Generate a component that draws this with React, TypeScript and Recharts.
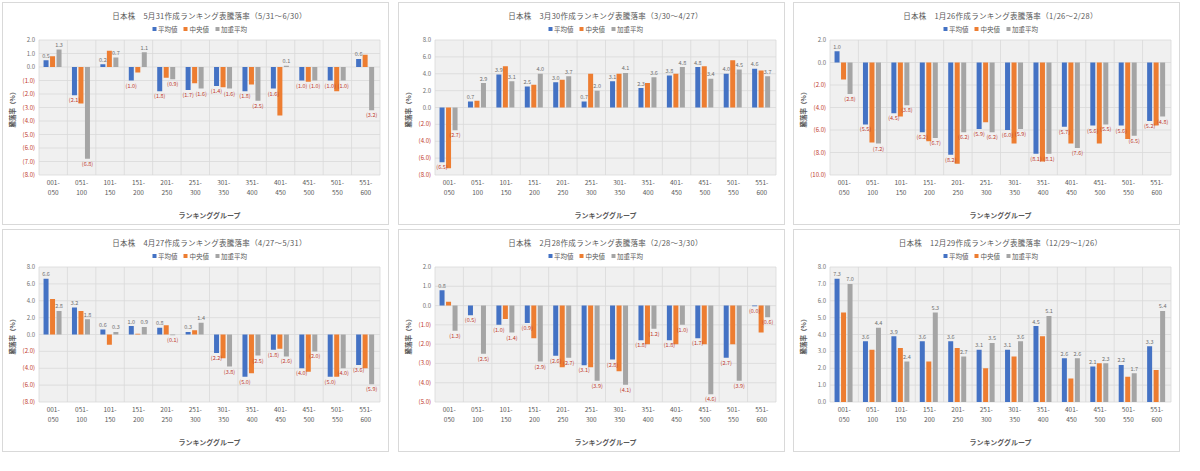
import React from 'react';
import { BarChart, Bar, XAxis, YAxis, CartesianGrid, LabelList } from 'recharts';

const categories = ['001-050', '051-100', '101-150', '151-200', '201-250', '251-300', '301-350', '351-400', '401-450', '451-500', '501-550', '551-600'];
const seriesNames = ['平均値', '中央値', '加重平均'];
const seriesColors = ['#4472C4', '#ED7D31', '#A5A5A5'];
const xAxisTitle = 'ランキンググループ';
const yAxisTitle = '騰落率（%）';

// Panel 1: 5/31 -> 6/30
const p1Title = '日本株　5月31作成ランキング表騰落率（5/31～6/30）';
const p1Avg = [0.5, -2.1, 0.2, -1.0, -1.8, -1.7, -1.4, -1.8, -1.6, -1.0, -1.0, 0.6];
const p1Med = [0.8, -2.7, 1.2, -0.4, -0.8, -1.2, -1.5, -1.3, -3.6, -1.1, -1.8, 0.9];
const p1W = [1.3, -6.8, 0.7, 1.1, -0.9, -1.6, -1.6, -2.5, 0.1, -1.0, -1.0, -3.2];
const p1Ticks = [-8, -7, -6, -5, -4, -3, -2, -1, 0, 1, 2];

// Panel 2: 3/30 -> 4/27
const p2Title = '日本株　3月30作成ランキング表騰落率（3/30～4/27）';
const p2Avg = [-6.5, 0.7, 3.9, 2.5, 3.0, 0.7, 3.1, 2.3, 3.8, 4.8, 4.0, 4.6];
const p2Med = [-7.2, 0.8, 4.9, 2.7, 3.3, 4.0, 4.0, 2.9, 4.0, 4.9, 5.6, 4.4];
const p2W = [-2.7, 2.9, 3.1, 4.0, 3.7, 2.0, 4.1, 3.6, 4.8, 3.4, 4.5, 3.7];
const p2Ticks = [-8, -6, -4, -2, 0, 2, 4, 6, 8];

// Panel 3: 1/26 -> 2/28
const p3Title = '日本株　1月26作成ランキング表騰落率（1/26～2/28）';
const p3Avg = [1.0, -5.5, -4.5, -6.2, -8.2, -5.9, -6.0, -8.1, -5.7, -5.6, -5.6, -5.2];
const p3Med = [-1.5, -7.1, -4.8, -7.0, -9.0, -5.3, -7.2, -8.8, -7.2, -7.2, -6.8, -5.6];
const p3W = [-2.8, -7.2, -3.8, -6.7, -6.2, -6.2, -5.9, -8.1, -7.6, -5.5, -6.5, -4.8];
const p3Ticks = [-10, -8, -6, -4, -2, 0, 2];

// Panel 4: 4/27 -> 5/31
const p4Title = '日本株　4月27作成ランキング表騰落率（4/27～5/31）';
const p4Avg = [6.6, 3.2, 0.6, 1.0, 0.8, 0.3, -2.2, -5.0, -1.8, -4.0, -5.0, -3.6];
const p4Med = [4.2, 2.8, -1.2, 0.1, 1.1, 0.5, -2.8, -4.6, -1.7, -4.4, -5.0, -4.0];
const p4W = [2.8, 1.8, 0.3, 0.9, -0.1, 1.4, -3.8, -2.5, -2.6, -2.0, -4.0, -5.9];
const p4Ticks = [-8, -6, -4, -2, 0, 2, 4, 6, 8];

// Panel 5: 2/28 -> 3/30
const p5Title = '日本株　2月28作成ランキング表騰落率（2/28～3/30）';
const p5Avg = [0.8, -0.5, -1.0, -0.9, -2.6, -3.1, -2.8, -1.8, -1.8, -1.7, -2.7, -0.04];
const p5Med = [0.2, 0.0, -0.7, -1.7, -3.2, -3.2, -3.4, -2.0, -2.0, -2.0, -2.0, -1.4];
const p5W = [-1.3, -2.5, -1.4, -2.9, -2.7, -3.9, -4.1, -1.2, -1.0, -4.6, -3.9, -0.6];
const p5Ticks = [-5, -4, -3, -2, -1, 0, 1, 2];

// Panel 6: 12/29 -> 1/26
const p6Title = '日本株　12月29作成ランキング表騰落率（12/29～1/26）';
const p6Avg = [7.3, 3.6, 3.9, 3.6, 3.6, 3.1, 3.1, 4.5, 2.6, 2.1, 2.2, 3.3];
const p6Med = [5.3, 3.1, 3.2, 2.4, 3.2, 2.0, 2.7, 3.9, 1.4, 2.3, 1.5, 1.9];
const p6W = [7.0, 4.4, 2.4, 5.3, 2.7, 3.5, 3.6, 5.1, 2.6, 2.3, 1.7, 5.4];
const p6Ticks = [0, 1, 2, 3, 4, 5, 6, 7, 8];

const FONT = '"Noto Sans CJK JP", "Noto Sans", sans-serif';
const PANEL_W = 387;
const PANEL_H = 223;
const INNER_W = PANEL_W - 2;
const INNER_H = PANEL_H - 2;
const MARGIN = { top: 37, right: 8, bottom: 19, left: 8 };
const Y_W = 28;
const PLOT_L = MARGIN.left + Y_W;
const PLOT_R = INNER_W - MARGIN.right;
const RED = '#c0392b';
const GRAY_TXT = '#6f6f6f';

function fmt(v: number) {
  return v < 0 ? `(${Math.abs(v).toFixed(1)})` : v.toFixed(1);
}

function YTick(props: any) {
  const { x, y, payload } = props;
  const v = Number(payload.value);
  return (
    <text x={x} y={y} dy={2} textAnchor="end" fontSize={6} fill={v < 0 ? RED : GRAY_TXT} fontFamily={FONT}>
      {fmt(v)}
    </text>
  );
}

function XTick(props: any) {
  const { x, y, payload } = props;
  const parts = String(payload.value).split('-');
  return (
    <text x={x} y={y} textAnchor="middle" fontSize={6.5} fill="#595959" fontFamily={FONT}>
      <tspan x={x} dy={8}>{parts[0]}-</tspan>
      <tspan x={x} dy={10}>{parts[1]}</tspan>
    </text>
  );
}

function ValueLabel(props: any) {
  const vb = props.viewBox && typeof props.viewBox.x === 'number' ? props.viewBox : props;
  const { x, y, width, height } = vb;
  const v = Number(props.value);
  if (props.value == null || isNaN(v) || typeof x !== 'number') return null;
  const h = typeof height === 'number' ? height : 0;
  const top = Math.min(y, y + h);
  const bottom = Math.max(y, y + h);
  const neg = v < 0;
  return (
    <text
      x={x + width / 2}
      y={neg ? bottom + 7 : top - 2.5}
      textAnchor="middle"
      fontSize={5.5}
      fill={neg ? RED : GRAY_TXT}
      fontFamily={FONT}
    >
      {fmt(v)}
    </text>
  );
}

type PanelProps = {
  left: number;
  top: number;
  title: string;
  avg: number[];
  med: number[];
  w: number[];
  ticks: number[];
};

function Panel({ left, top, title, avg, med, w, ticks }: PanelProps) {
  const data = categories.map((c, i) => ({ cat: c, avg: avg[i], med: med[i], w: w[i] }));
  const domain: [number, number] = [ticks[0], ticks[ticks.length - 1]];
  const plotCenter = (PLOT_L + PLOT_R) / 2;
  return (
    <div
      style={{
        position: 'absolute',
        left,
        top,
        width: PANEL_W,
        height: PANEL_H,
        border: '1px solid #d9d9d9',
        boxSizing: 'border-box',
        background: '#ffffff',
        fontFamily: FONT,
      }}
    >
      <div
        style={{
          position: 'absolute',
          left: plotCenter,
          top: 12,
          transform: 'translate(-50%, -50%)',
          whiteSpace: 'nowrap',
          fontSize: 7.5,
          color: '#595959',
          letterSpacing: 0.3,
        }}
      >
        {title}
      </div>
      <div
        style={{
          position: 'absolute',
          left: INNER_W / 2 + 4,
          top: 26,
          transform: 'translate(-50%, -50%)',
          whiteSpace: 'nowrap',
          fontSize: 6.5,
          color: '#595959',
          display: 'flex',
          alignItems: 'center',
          gap: 6,
        }}
      >
        {seriesNames.map((n, i) => (
          <span key={n} style={{ display: 'flex', alignItems: 'center' }}>
            <span style={{ display: 'inline-block', width: 4, height: 4, background: seriesColors[i], marginRight: 2 }} />
            {n}
          </span>
        ))}
      </div>
      <div
        style={{
          position: 'absolute',
          left: 9,
          top: (MARGIN.top + (INNER_H - MARGIN.bottom - 30)) / 2,
          transform: 'translate(-50%, -50%) rotate(-90deg)',
          whiteSpace: 'nowrap',
          fontSize: 6.5,
          fontWeight: 'bold',
          color: '#595959',
        }}
      >
        {yAxisTitle}
      </div>
      <div
        style={{
          position: 'absolute',
          left: plotCenter,
          top: 212,
          transform: 'translate(-50%, -50%)',
          whiteSpace: 'nowrap',
          fontSize: 7,
          fontWeight: 'bold',
          color: '#595959',
        }}
      >
        {xAxisTitle}
      </div>
      <div style={{ position: 'absolute', left: 0, top: 0 }}>
        <BarChart
          width={INNER_W}
          height={INNER_H}
          data={data}
          margin={MARGIN}
          barCategoryGap="16%"
          barGap={1.5}
        >
          <CartesianGrid
            fill="#f0f0f0"
            stroke="#d9d9d9"
            strokeWidth={0.8}
            verticalCoordinatesGenerator={({ offset }: any) =>
              categories
                .map((_, i) => offset.left + (i * offset.width) / categories.length)
                .concat(offset.left + offset.width)
            }
          />
          <XAxis
            dataKey="cat"
            interval={0}
            tick={<XTick />}
            tickLine={false}
            axisLine={false}
            tickSize={0}
            tickMargin={2}
            height={30}
          />
          <YAxis
            domain={domain}
            ticks={ticks}
            interval={0}
            allowDataOverflow
            tick={<YTick />}
            tickLine={false}
            axisLine={false}
            tickSize={2}
            tickMargin={2}
            width={Y_W}
          />
          <Bar dataKey="avg" name={seriesNames[0]} fill={seriesColors[0]} isAnimationActive={false}>
            <LabelList dataKey="avg" content={<ValueLabel />} />
          </Bar>
          <Bar dataKey="med" name={seriesNames[1]} fill={seriesColors[1]} isAnimationActive={false} />
          <Bar dataKey="w" name={seriesNames[2]} fill={seriesColors[2]} isAnimationActive={false}>
            <LabelList dataKey="w" content={<ValueLabel />} />
          </Bar>
        </BarChart>
      </div>
    </div>
  );
}

export default function App() {
  return (
    <div style={{ position: 'absolute', left: 0, top: 0, width: 1200, height: 471, background: '#ffffff', overflow: 'hidden' }}>
      <Panel left={2} top={2} title={p1Title} avg={p1Avg} med={p1Med} w={p1W} ticks={p1Ticks} />
      <Panel left={398} top={2} title={p2Title} avg={p2Avg} med={p2Med} w={p2W} ticks={p2Ticks} />
      <Panel left={793} top={2} title={p3Title} avg={p3Avg} med={p3Med} w={p3W} ticks={p3Ticks} />
      <Panel left={2} top={229} title={p4Title} avg={p4Avg} med={p4Med} w={p4W} ticks={p4Ticks} />
      <Panel left={398} top={229} title={p5Title} avg={p5Avg} med={p5Med} w={p5W} ticks={p5Ticks} />
      <Panel left={793} top={229} title={p6Title} avg={p6Avg} med={p6Med} w={p6W} ticks={p6Ticks} />
    </div>
  );
}
